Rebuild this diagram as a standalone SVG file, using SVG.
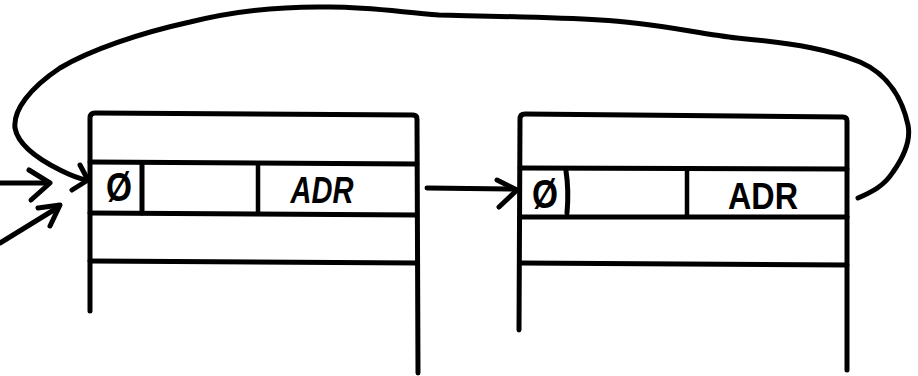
<svg xmlns="http://www.w3.org/2000/svg" width="918" height="376" viewBox="0 0 918 376">
  <style>
    .ink { fill: none; stroke: #000; stroke-width: 5; stroke-linecap: round; stroke-linejoin: round; }
    .thin { stroke-width: 4.5; }
    .lbl { font-family: "Liberation Sans", Arial, sans-serif; fill: #000; text-anchor: middle; font-weight: bold; }
    .adr { font-size: 36px; }
    .null { font-size: 40px; }
  </style>
  <rect width="918" height="376" fill="#fff"/>

  <!-- first record -->
  <g id="record-1">
    <path class="ink" d="M90,311 L90,118 Q90,113 95,113 L413,115 Q417,115 417,119 L418,373"/>
    <path class="ink" d="M90,162 L417,164"/>
    <path class="ink" d="M90,213 L417,215"/>
    <path class="ink" d="M90,261 L417,263"/>
    <path class="ink" d="M142,164 L142,213"/>
    <path class="ink thin" d="M258,164 L258,213"/>
    <text class="lbl null" x="119" y="201" textLength="26" lengthAdjust="spacingAndGlyphs">Ø</text>
    <text class="lbl adr" x="322" y="203" font-style="italic" textLength="63" lengthAdjust="spacingAndGlyphs">ADR</text>
  </g>

  <!-- second record -->
  <g id="record-2">
    <path class="ink" d="M519,330 L520,119 Q520,114 525,114 L843,117 Q847,117 847,121 L847,370"/>
    <path class="ink" d="M520,168 L847,169"/>
    <path class="ink" d="M520,217 L847,217"/>
    <path class="ink" d="M520,263 L847,265"/>
    <path class="ink" d="M566,171 Q569,190 567,213"/>
    <path class="ink thin" d="M687,170 L687,215"/>
    <text class="lbl null" x="545" y="208" textLength="26" lengthAdjust="spacingAndGlyphs">Ø</text>
    <text class="lbl adr" x="763" y="209" font-size="38" textLength="70" lengthAdjust="spacingAndGlyphs">ADR</text>
  </g>

  <!-- pointers -->
  <g id="connectors">
    <!-- incoming pointers -->
    <path class="ink" d="M0,183 L47,183"/>
    <path class="ink" d="M29,170 L50,183 L31,200"/>
    <path class="ink" d="M0,243 L57,208"/>
    <path class="ink" d="M38,208 L60,205 L50,226"/>
    <!-- record 1 to record 2 -->
    <path class="ink" d="M427,188 L514,189"/>
    <path class="ink" d="M497,180 L517,190 L499,207"/>
    <!-- wrap-around link from record 2 back to record 1 -->
    <path class="ink" d="M858,198 C872,192 884,186 893,172 C905,155 911,140 908,125 C903,102 890,75 860,62 C830,50 800,44 737,38 C700,34 650,22 600,20 C550,17 480,16 439,15 C400,12 370,7 330,7 C280,6 230,12 190,22 C140,33 90,50 60,68 C30,88 13,110 15,128 C18,145 40,160 60,170 C72,176 80,179 87,180"/>
    <path class="ink" d="M80,165 L88,180 L72,190"/>
  </g>
</svg>
